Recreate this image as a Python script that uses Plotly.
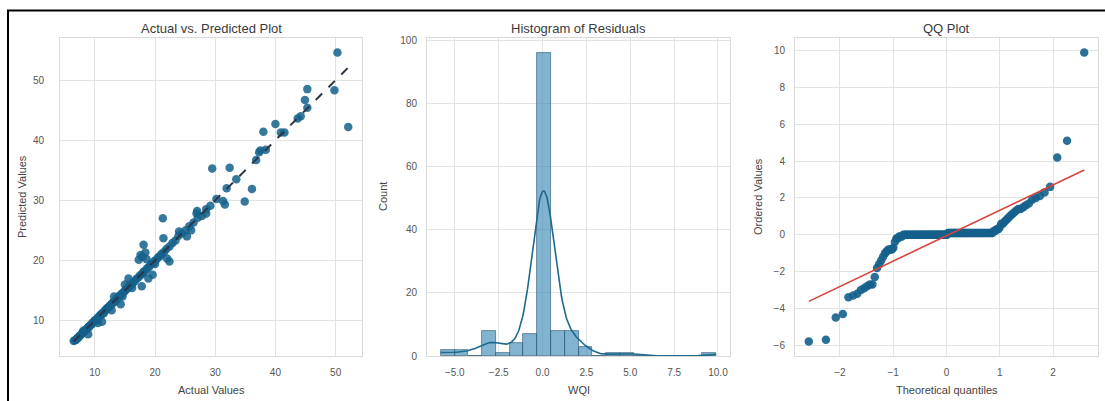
import numpy as np
import plotly.graph_objects as go
from statistics import NormalDist

# ---- data: observed vs model-predicted WQI ----
actual_wqi = [
    # large negative residuals
    29.5, 21.3, 18.1, 50.3, 38.0, 17.6, 45.3, 32.4, 18.4, 17.3,
    40.0, 17.9, 21.4, 44.9, 18.6, 15.6, 27.0, 24.0, 37.5, 37.3,
    40.9, 15.0, 13.2, 26.9,
    # positive residuals
    52.1, 34.9, 36.1, 17.8, 22.4, 31.6, 22.0, 31.3, 49.8, 25.3,
    18.9, 11.2, 14.3, 19.6, 28.5, 14.6, 26.0, 10.5, 12.8, 16.2,
    20.0, 8.9,
    # near-exact fits
    6.5, 6.7, 6.9, 7.1, 7.2, 7.3, 7.5, 7.7, 7.9, 8.0,
    8.1, 8.3, 8.5, 8.7, 8.9, 9.0, 9.1, 9.3, 9.5, 9.7,
    9.9, 10.0, 10.1, 10.3, 10.5, 10.7, 10.9, 11.0, 11.1, 11.3,
    11.5, 11.7, 11.9, 12.0, 12.1, 12.3, 12.5, 12.7, 12.9, 13.0,
    13.1, 13.3, 13.5, 13.7, 13.9, 14.1, 14.3, 14.5, 14.8, 15.0,
    15.1, 15.4, 15.7, 16.0, 16.1, 16.3, 16.6, 16.9, 17.2, 17.5,
    17.8, 18.0, 18.1, 18.4, 18.7, 19.0, 19.3, 19.6, 19.9, 20.2,
    20.5, 20.8, 21.1, 21.5, 21.9, 22.4, 22.9, 23.4, 23.9, 24.5,
    25.1, 25.7, 26.4, 27.1, 27.8, 28.5, 29.2, 30.2, 31.9, 33.5,
    36.8, 38.4, 41.5, 43.7, 44.2, 45.3,
]
predicted_wqi = [
    35.3, 27.0, 22.6, 54.6, 41.4, 20.9, 48.5, 35.4, 21.3, 20.1,
    42.7, 20.6, 23.7, 46.7, 20.2, 17.0, 28.2, 24.8, 38.3, 38.0,
    41.3, 16.0, 14.0, 27.8,
    42.2, 29.8, 31.9, 15.7, 19.8, 29.3, 20.3, 29.9, 48.3, 24.0,
    17.0, 9.8, 12.7, 17.6, 27.8, 14.0, 25.0, 9.6, 11.7, 15.4,
    19.4, 7.7,
    6.6, 6.7, 6.8, 7.1, 7.1, 7.2, 7.5, 7.6, 7.9, 8.0,
    8.3, 8.2, 8.5, 8.6, 8.9, 8.9, 9.0, 9.3, 9.4, 9.7,
    9.8, 10.0, 10.1, 10.2, 10.5, 10.6, 10.9, 10.9, 11.0, 11.3,
    11.2, 11.7, 11.8, 12.0, 12.1, 12.2, 12.5, 12.6, 12.9, 12.9,
    13.0, 13.3, 13.2, 13.7, 13.8, 14.1, 14.2, 14.5, 14.7, 14.9,
    15.1, 15.3, 15.7, 15.9, 16.0, 16.3, 16.5, 16.9, 17.1, 17.5,
    17.7, 17.9, 18.1, 18.3, 18.7, 18.9, 19.3, 19.5, 19.9, 20.1,
    20.5, 20.7, 21.1, 21.4, 21.9, 22.3, 22.9, 23.3, 24.1, 24.5,
    25.0, 25.7, 26.3, 27.1, 27.4, 28.5, 29.1, 30.2, 32.0, 33.5,
    36.7, 38.4, 41.3, 43.6, 44.0, 45.4,
]

panel_titles = ["Actual vs. Predicted Plot", "Histogram of Residuals", "QQ Plot"]
axis_titles = {
    "x1": "Actual Values", "y1": "Predicted Values",
    "x2": "WQI", "y2": "Count",
    "x3": "Theoretical quantiles", "y3": "Ordered Values",
}
n_bins = 20

# ---- derived quantities ----
y_true = np.array(actual_wqi)
y_pred = np.array(predicted_wqi)
resid = y_true - y_pred
n = len(resid)

counts, edges = np.histogram(resid, bins=n_bins)
bin_w = edges[1] - edges[0]
centers = (edges[:-1] + edges[1:]) / 2

# Gaussian KDE (Scott bandwidth), scaled to counts
bw = resid.std(ddof=1) * n ** (-1 / 5)
kde_x = np.linspace(resid.min(), resid.max(), 300)
kde_pdf = np.exp(-0.5 * ((kde_x[:, None] - resid[None, :]) / bw) ** 2).sum(axis=1)
kde_pdf /= n * bw * np.sqrt(2 * np.pi)
kde_y = kde_pdf * n * bin_w

# normal probability plot (Filliben order statistic medians)
i = np.arange(1, n + 1)
m = (i - 0.3175) / (n + 0.365)
m[-1] = 0.5 ** (1 / n)
m[0] = 1 - m[-1]
nd = NormalDist()
osm = np.array([nd.inv_cdf(v) for v in m])
osr = np.sort(resid)
slope, intercept = np.polyfit(osm, osr, 1)
fit_x = np.array([osm[0], osm[-1]])
fit_y = slope * fit_x + intercept


def padded(lo, hi, frac=0.05):
    span = hi - lo
    return [lo - frac * span, hi + frac * span]


# ---- layout geometry ----
W, H = 1105, 401
ML, MR, MT, MB = 60, 7, 38, 45
PW, PH = W - ML - MR, H - MT - MB


def fx(p):
    return (p - ML) / PW


def fy(p):
    return (H - MB - p) / PH


dom1 = [0.0, fx(362)]
dom2 = [fx(427), fx(730)]
dom3 = [fx(795), 1.0]

FONT = "Liberation Sans, Arial, sans-serif"
PT_COLOR = "#14618c"

fig = go.Figure()

# panel 1: actual vs predicted
fig.add_trace(go.Scatter(
    x=y_true, y=y_pred, mode="markers",
    marker=dict(size=8.5, color=PT_COLOR, opacity=0.85, line=dict(width=0)),
    xaxis="x", yaxis="y", showlegend=False,
))
lo, hi = y_true.min(), y_true.max()
fig.add_trace(go.Scatter(
    x=[lo, hi], y=[lo, hi], mode="lines",
    line=dict(color="#2b3646", width=2, dash="dash"),
    xaxis="x", yaxis="y", showlegend=False,
))

# panel 2: histogram of residuals with KDE
fig.add_trace(go.Bar(
    x=centers, y=counts, width=bin_w,
    marker=dict(color="rgba(60,140,185,0.65)",
                line=dict(color="rgba(40,80,110,0.75)", width=0.8)),
    xaxis="x2", yaxis="y2", showlegend=False,
))
fig.add_trace(go.Scatter(
    x=kde_x, y=kde_y, mode="lines",
    line=dict(color="#1d6a8e", width=1.6),
    xaxis="x2", yaxis="y2", showlegend=False,
))

# panel 3: QQ plot
fig.add_trace(go.Scatter(
    x=osm, y=osr, mode="markers",
    marker=dict(size=8.5, color=PT_COLOR, opacity=0.9, line=dict(width=0)),
    xaxis="x3", yaxis="y3", showlegend=False,
))
fig.add_trace(go.Scatter(
    x=fit_x, y=fit_y, mode="lines",
    line=dict(color="#d8443c", width=1.6),
    xaxis="x3", yaxis="y3", showlegend=False,
))

axis_style = dict(
    showgrid=True, gridcolor="#e3e3e3", gridwidth=1,
    showline=True, linecolor="#dadada", linewidth=1, mirror=True,
    zeroline=False, ticks="",
    tickfont=dict(family=FONT, size=10, color="#555555"),
)

x1_range = padded(lo, hi)
y1_range = padded(min(y_pred.min(), lo), max(y_pred.max(), hi))
x2_range = padded(resid.min(), resid.max())
y2_range = [0, counts.max() * 1.05]
x3_range = padded(osm.min(), osm.max())
y3_range = padded(osr.min(), osr.max())

fig.update_layout(
    width=W, height=H,
    margin=dict(l=ML, r=MR, t=MT, b=MB),
    paper_bgcolor="white", plot_bgcolor="white",
    font=dict(family=FONT, color="#444444"),
    bargap=0,
    xaxis=dict(axis_style, domain=dom1, range=x1_range, anchor="y",
               tickvals=[10, 20, 30, 40, 50], ticklabelstandoff=7),
    yaxis=dict(axis_style, domain=[0, 1], range=y1_range, anchor="x",
               tickvals=[10, 20, 30, 40, 50], ticklabelstandoff=13),
    xaxis2=dict(axis_style, domain=dom2, range=x2_range, anchor="y2",
                tickvals=[-5, -2.5, 0, 2.5, 5, 7.5, 10], tickformat=".1f",
                ticklabelstandoff=7),
    yaxis2=dict(axis_style, domain=[0, 1], range=y2_range, anchor="x2",
                tickvals=[0, 20, 40, 60, 80, 100], ticklabelstandoff=7),
    xaxis3=dict(axis_style, domain=dom3, range=x3_range, anchor="y3",
                tickvals=[-2, -1, 0, 1, 2], ticklabelstandoff=7),
    yaxis3=dict(axis_style, domain=[0, 1], range=y3_range, anchor="x3",
                tickvals=[-6, -4, -2, 0, 2, 4, 6, 8, 10], ticklabelstandoff=7),
)

# panel titles
for title, dom in zip(panel_titles, [dom1, dom2, dom3]):
    fig.add_annotation(
        text=title, x=(dom[0] + dom[1]) / 2, y=fy(28), xref="paper", yref="paper",
        xanchor="center", yanchor="middle", showarrow=False,
        font=dict(family=FONT, size=13, color="#3a3a3a"),
    )

# axis titles
for key, dom in zip(["x1", "x2", "x3"], [dom1, dom2, dom3]):
    fig.add_annotation(
        text=axis_titles[key], x=(dom[0] + dom[1]) / 2, y=fy(390),
        xref="paper", yref="paper", xanchor="center", yanchor="middle",
        showarrow=False, font=dict(family=FONT, size=11, color="#444444"),
    )
for key, xpix in zip(["y1", "y2", "y3"], [22, 383, 758]):
    fig.add_annotation(
        text=axis_titles[key], x=fx(xpix), y=0.5, xref="paper", yref="paper",
        xanchor="center", yanchor="middle", textangle=-90,
        showarrow=False, font=dict(family=FONT, size=11, color="#444444"),
    )

# frame lines along the top and left edges
fig.add_shape(type="line", xref="paper", yref="paper",
              x0=fx(7), x1=fx(W + 2), y0=fy(10.5), y1=fy(10.5),
              line=dict(color="black", width=2))
fig.add_shape(type="line", xref="paper", yref="paper",
              x0=fx(8), x1=fx(8), y0=fy(10), y1=fy(H + 2),
              line=dict(color="black", width=2))

fig.write_html("out.html")
